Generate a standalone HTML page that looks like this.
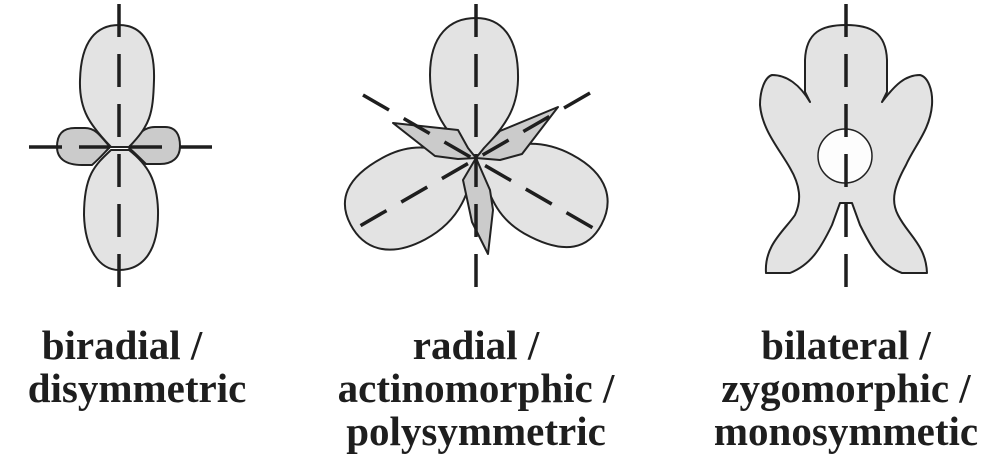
<!DOCTYPE html>
<html><head><meta charset="utf-8"><style>
html,body{margin:0;padding:0;background:#fff;width:999px;height:460px;overflow:hidden}
svg{display:block}
text{font-family:"Liberation Serif",serif;font-weight:bold;font-size:41px;fill:#1e1e1e;text-anchor:middle}
</style></head><body>
<svg width="999" height="460" viewBox="0 0 999 460" xmlns="http://www.w3.org/2000/svg">
<g stroke="#222" stroke-width="2" stroke-linejoin="round">
<path d="M110,147 C100,135 95,128 85,128 L75,128 C62,128 57,135 57,147 C57,158 65,165 82,165 L92,165 C100,158 105,152 110,147Z" fill="#cbcbcb"/>
<path d="M128,147 C138,135 143,127 155,127 L165,127 C176,127 180,135 180,146 C180,158 172,164 160,164 L146,164 C140,158 134,152 128,147Z" fill="#cbcbcb"/>
<path d="M111,147 C90,125 79,110 80,80 C81,40 97,25 119,25 C143,25 155,45 154,80 C153,115 150,125 129,147 Z" fill="#e3e3e3"/>
<path d="M111,150 C95,165 84,175 84,215 C85,250 100,270 119,270 C140,270 159,255 158,210 C157,180 148,165 129,150 Z" fill="#e3e3e3"/>
<g fill="#e3e3e3">
<path d="M476,158 C455,140 430,120 430,75 C430,35 450,18 476,18 C500,18 519,35 518,80 C517,115 500,130 476,158Z"/>
<path d="M476,158 C455,140 428,120 428,75 C428,32 450,16 476,16 C502,16 521,32 520,80 C519,115 500,130 476,158Z" transform="rotate(118 476 158)"/>
<path d="M476,158 C455,140 428,120 428,75 C428,32 450,16 476,16 C502,16 521,32 520,80 C519,115 500,130 476,158Z" transform="rotate(242 476 158)"/>
</g>
<g fill="#cbcbcb">
<path d="M393,123 L458,130 L468,148 L476,158 L458,159 L435,156 Z"/>
<path d="M558,107 L500,131 L484,148 L476,158 L500,160 L522,154 Z"/>
<path d="M476,158 L490,190 L493,210 L488,254 L472,222 L463,180 Z"/>
</g>
<path d="M846,25 C870,25 886,32 887,60 L887,92 L882,102 C895,85 905,75 920,75 C928,77 933,90 932,105 C930,130 915,145 906,165 C895,185 890,200 898,215 C908,235 926,245 927,273 L902,273 C880,265 870,245 860,225 L852,203 L840,203 L832,225 C820,250 810,265 790,273 L766,273 C764,245 785,230 795,215 C802,200 800,185 790,168 C780,150 762,130 760,105 C760,90 765,77 772,75 C787,75 800,85 810,102 L805,92 L805,60 C806,32 822,25 846,25Z" fill="#e3e3e3"/>
<circle cx="845" cy="156" r="27" fill="#fdfdfd" stroke-width="1.5"/>
</g>
<g stroke="#1e1e1e" stroke-width="3.5" stroke-dasharray="33 17" fill="none">
<line x1="119" y1="4" x2="119" y2="287"/>
<line x1="476" y1="4" x2="476" y2="287"/>
<line x1="363" y1="95" x2="607" y2="236" stroke-dasharray="30 17"/>
<line x1="590" y1="93" x2="346" y2="234" stroke-dasharray="30 17"/>
<line x1="846" y1="4" x2="846" y2="287"/>
</g>
<g stroke="#1e1e1e" stroke-width="3.5">
<line x1="29" y1="147" x2="62" y2="147"/>
<line x1="79" y1="147" x2="110" y2="147"/>
<line x1="129" y1="147" x2="162" y2="147"/>
<line x1="180" y1="147" x2="212" y2="147"/>
</g>
<text x="122" y="359">biradial /</text>
<text x="137" y="402">disymmetric</text>
<text x="476" y="359">radial /</text>
<text x="476" y="402">actinomorphic /</text>
<text x="476" y="445">polysymmetric</text>
<text x="846" y="359">bilateral /</text>
<text x="846" y="402">zygomorphic /</text>
<text x="846" y="445">monosymmetic</text>
</svg>
</body></html>
